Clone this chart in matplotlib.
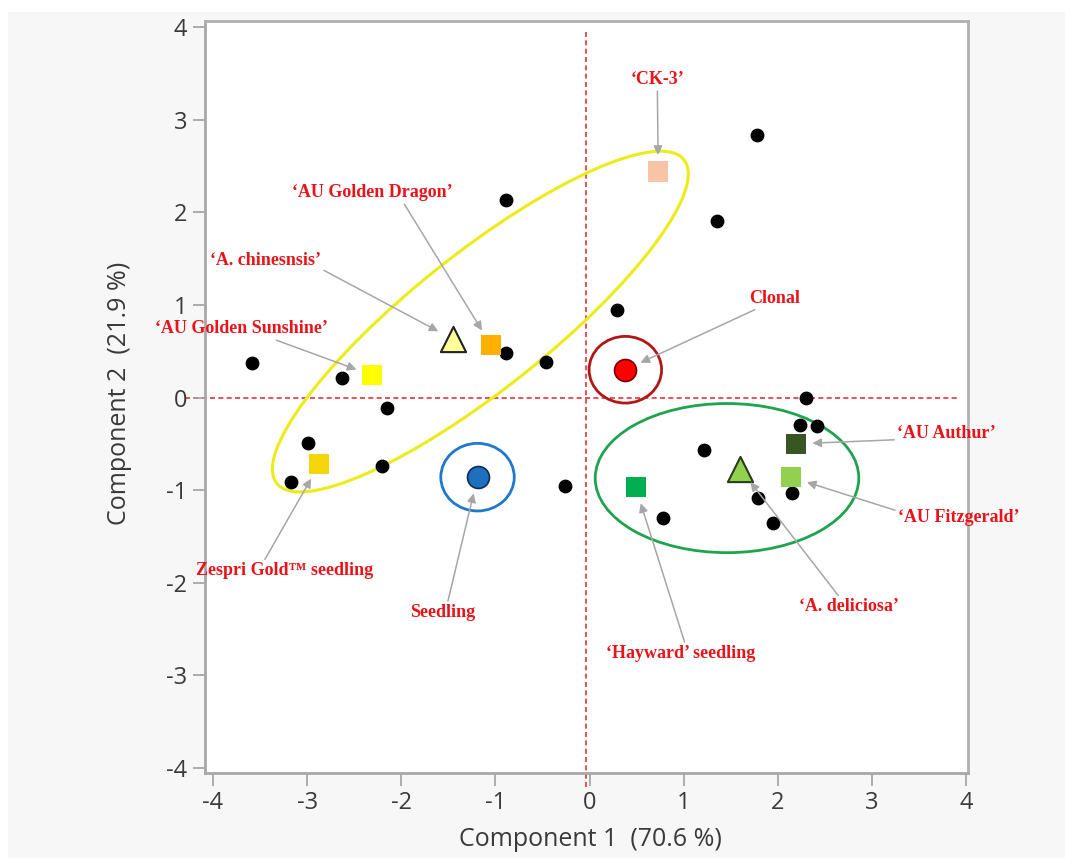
import matplotlib
matplotlib.use('Agg')
import matplotlib.pyplot as plt
from matplotlib.patches import Ellipse, Rectangle

# 主成分得分 (未标注的单株)
pc1 = [-3.59, -2.63, -2.15, -2.99, -3.17, -2.20, -0.89, -0.89, -0.46, -0.26, 0.29,
       1.78, 1.35, 2.30, 2.24, 2.42, 1.22, 1.79, 2.15, 1.95, 0.78]
pc2 = [0.37, 0.21, -0.11, -0.49, -0.91, -0.74, 2.13, 0.48, 0.38, -0.95, 0.94,
       2.83, 1.91, -0.01, -0.30, -0.31, -0.57, -1.09, -1.03, -1.36, -1.30]

# 标注的品种 / 类群
names = ["‘CK-3’", "‘AU Golden Dragon’", "‘A. chinesnsis’", "‘AU Golden Sunshine’",
         "Clonal", "‘AU Authur’", "‘AU Fitzgerald’", "‘A. deliciosa’",
         "‘Hayward’ seedling", "Zespri Gold™ seedling", "Seedling"]
named_x = [0.73, -1.05, -1.45, -2.31, 0.38, 2.19, 2.14, 1.60, 0.49, -2.87, -1.19]
named_y = [2.44, 0.57, 0.63, 0.24, 0.30, -0.50, -0.86, -0.77, -0.97, -0.72, -0.86]

# 样式
styles = [
    dict(marker='s', s=210, c='#f8c4a6', edgecolors='none'),
    dict(marker='s', s=210, c='#ffb000', edgecolors='none'),
    dict(marker='^', s=330, c='#ffff99', edgecolors='#222222', linewidths=1.5),
    dict(marker='s', s=210, c='#ffff00', edgecolors='none'),
    dict(marker='o', s=250, c='#ff0000', edgecolors='#7a0000', linewidths=1.2),
    dict(marker='s', s=210, c='#375623', edgecolors='none'),
    dict(marker='s', s=210, c='#92d050', edgecolors='none'),
    dict(marker='^', s=330, c='#92d050', edgecolors='#2a3d1a', linewidths=1.5),
    dict(marker='s', s=210, c='#00b050', edgecolors='none'),
    dict(marker='s', s=210, c='#f5d60a', edgecolors='none'),
    dict(marker='o', s=250, c='#1f6fbf', edgecolors='#0d2f55', linewidths=1.2),
]

# 标签位置 (数据坐标) 和箭头起点 (相对文字框)
label_pos = [(0.72, 3.43), (-2.31, 2.21), (-3.44, 1.48), (-3.70, 0.74), (1.97, 1.07),
             (3.79, -0.39), (3.92, -1.30), (2.75, -2.26), (0.97, -2.76),
             (-3.24, -1.87), (-1.56, -2.32)]
label_rel = [(0.5, 0.0), (0.69, 0.0), (1.0, 0.0), (0.66, 0.0), (0.22, 0.0),
             (0.03, 0.15), (0.0, 0.9), (0.42, 1.0), (0.53, 1.0), (0.38, 1.0), (0.57, 1.0)]

fig = plt.figure(figsize=(10.65, 8.58), dpi=100, facecolor='#f7f7f7')
fig.patches.append(Rectangle((0, 1 - 12 / 858), 1, 12 / 858, transform=fig.transFigure,
                             facecolor='white', edgecolor='none', zorder=0))
fig.patches.append(Rectangle((0, 0), 8 / 1065, 1, transform=fig.transFigure,
                             facecolor='white', edgecolor='none', zorder=0))

ax = fig.add_axes([205 / 1065, 1 - 773 / 858, 763 / 1065, 752 / 858])
ax.set_facecolor('white')
ax.set_xlim(-4.085, 4.02)
ax.set_ylim(-4.054, 4.065)

# 参考线
ax.plot([-0.04, -0.04], [3.95, -4.2], color='#e8303a', lw=1.2, ls=(0, (3, 2)),
        clip_on=False, zorder=1)
ax.plot([-4.3, 3.9], [0, 0], color='#e8303a', lw=1.2, ls=(0, (3, 2)),
        clip_on=False, zorder=1)

# 分组椭圆
ax.add_patch(Ellipse((-1.16, 0.82), 5.56, 1.46, angle=39.0, fill=False,
                     edgecolor='#ecec1a', lw=2.2, zorder=2))
ax.add_patch(Ellipse((1.46, -0.87), 2.80, 1.61, fill=False,
                     edgecolor='#1fa34e', lw=2.0, zorder=2))
ax.add_patch(Ellipse((named_x[10], named_y[10]), 0.78, 0.73, fill=False,
                     edgecolor='#1f78c8', lw=2.0, zorder=2))
ax.add_patch(Ellipse((named_x[4], named_y[4]), 0.77, 0.72, fill=False,
                     edgecolor='#b01818', lw=2.0, zorder=2))

ax.scatter(pc1, pc2, s=80, c='black', zorder=3)
for x, y, st in zip(named_x, named_y, styles):
    ax.scatter([x], [y], zorder=4, **st)

for name, x, y, pos, rel in zip(names, named_x, named_y, label_pos, label_rel):
    ax.annotate(name, xy=(x, y), xytext=pos, ha='center', va='center',
                fontsize=13, fontweight='bold', family='Liberation Serif',
                color='#e8141a', zorder=5,
                arrowprops=dict(arrowstyle='-|>', color='#a6a6a6', lw=1.1,
                                mutation_scale=13, shrinkA=0, shrinkB=12,
                                relpos=rel))

ticks = [-4, -3, -2, -1, 0, 1, 2, 3, 4]
ax.set_xticks(ticks)
ax.set_yticks(ticks)
ax.set_xticklabels([str(t) for t in ticks], family='Open Sans')
ax.set_yticklabels([str(t) for t in ticks], family='Open Sans')
ax.tick_params(direction='out', length=9, width=1.2, color='#a0a0a0',
               labelsize=17, labelcolor='#3a3a3a', pad=4)
for tk in ax.xaxis.get_major_ticks() + ax.yaxis.get_major_ticks():
    if tk.get_loc() == 0:
        tk.tick1line.set_color('#e8303a')

for side in ['left', 'bottom']:
    ax.spines[side].set_color('#a8a8a8')
    ax.spines[side].set_linewidth(2)
for side in ['top', 'right']:
    ax.spines[side].set_color('#b0b0b0')
    ax.spines[side].set_linewidth(2)

fig.text(590 / 1065, 1 - 839 / 858, 'Component 1  (70.6 %)', ha='center', va='center',
         fontsize=18, color='#3a3a3a', family='Open Sans')
fig.text(120 / 1065, 1 - 393 / 858, 'Component 2  (21.9 %)', ha='center', va='center',
         rotation=90, fontsize=18, color='#3a3a3a', family='Open Sans')

fig.savefig('out.png', dpi=100, facecolor=fig.get_facecolor())
